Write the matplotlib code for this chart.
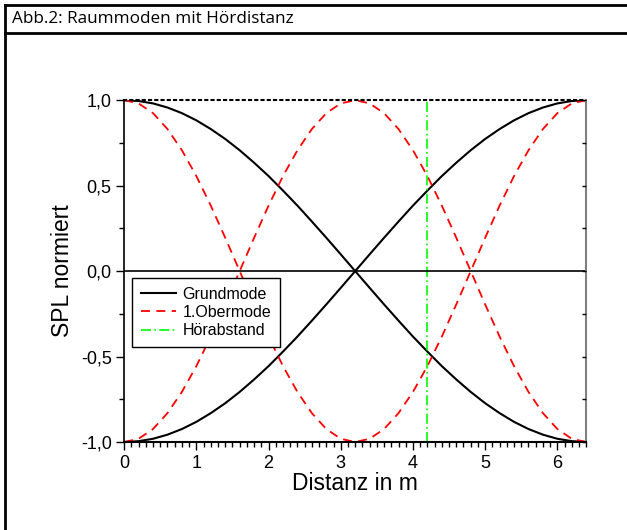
import matplotlib
matplotlib.use("Agg")
import matplotlib.pyplot as plt
import numpy as np
from matplotlib.lines import Line2D
from matplotlib.ticker import MultipleLocator, FuncFormatter

plt.rcParams['font.family'] = ['Liberation Sans', 'DejaVu Sans']

distanz = [0.0, 0.2, 0.4, 0.6, 0.8, 1.0, 1.2, 1.4, 1.6, 1.8, 2.0, 2.2, 2.4, 2.6, 2.8, 3.0,
           3.2, 3.4, 3.6, 3.8, 4.0, 4.2, 4.4, 4.6, 4.8, 5.0, 5.2, 5.4, 5.6, 5.8, 6.0, 6.2, 6.4]
grundmode = [1.000, 0.995, 0.981, 0.957, 0.924, 0.882, 0.831, 0.773, 0.707, 0.634, 0.556,
             0.471, 0.383, 0.290, 0.195, 0.098, 0.000, -0.098, -0.195, -0.290, -0.383,
             -0.471, -0.556, -0.634, -0.707, -0.773, -0.831, -0.882, -0.924, -0.957,
             -0.981, -0.995, -1.000]
obermode = [1.000, 0.981, 0.924, 0.831, 0.707, 0.556, 0.383, 0.195, 0.000, -0.195, -0.383,
            -0.556, -0.707, -0.831, -0.924, -0.981, -1.000, -0.981, -0.924, -0.831, -0.707,
            -0.556, -0.383, -0.195, 0.000, 0.195, 0.383, 0.556, 0.707, 0.831, 0.924, 0.981,
            1.000]
hoerabstand = 4.2

fig = plt.figure(figsize=(6.27, 5.30), dpi=100)
ax = fig.add_axes([0.198, 0.166, 0.737, 0.645])

ax.plot(distanz, grundmode, color='black', lw=1.5, label='Grundmode')
ax.plot(distanz, np.negative(grundmode), color='black', lw=1.5)
ax.plot(distanz, obermode, color='red', lw=1.3, ls=(0, (5, 3.5)), label='1.Obermode')
ax.plot(distanz, np.negative(obermode), color='red', lw=1.3, ls=(0, (5, 3.5)))
ax.plot([hoerabstand, hoerabstand], [-1, 1], color='#00ff00', lw=1.2,
        ls=(0, (6, 2, 1, 2)), label='Hörabstand')
ax.axhline(0, color='black', lw=1.2)

ax.set_xlim(0, 6.4)
ax.set_ylim(-1, 1)
ax.xaxis.set_major_locator(MultipleLocator(1))
ax.xaxis.set_minor_locator(MultipleLocator(0.1))
ax.yaxis.set_major_locator(MultipleLocator(0.5))
ax.yaxis.set_minor_locator(MultipleLocator(0.25))
ax.yaxis.set_major_formatter(FuncFormatter(lambda v, p: f"{v:.1f}".replace('.', ',')))
ax.tick_params(which='major', direction='out', length=6, width=1, labelsize=13, pad=3)
ax.tick_params(which='minor', direction='out', length=3.5, width=1)

ax.spines['top'].set_linestyle((0, (1, 2)))
ax.spines['top'].set_linewidth(1.5)
ax.spines['right'].set_color('#808080')
ax.spines['right'].set_linewidth(1.5)
ax.spines['left'].set_linewidth(1.2)
ax.spines['bottom'].set_linewidth(1.5)

ax2 = ax.twinx()
ax2.set_ylim(-1, 1)
ax2.yaxis.set_major_locator(MultipleLocator(0.25))
ax2.tick_params(direction='in', length=3, width=1, labelright=False, color='black')
for s in ax2.spines.values():
    s.set_visible(False)

ax.set_xlabel('Distanz in m', fontsize=16.5, labelpad=0)
ax.set_ylabel('SPL normiert', fontsize=16.5, labelpad=5)

leg = ax.legend(loc='upper left', bbox_to_anchor=(0.017, 0.48), borderaxespad=0,
                fontsize=11.5, handlelength=2.2, handletextpad=0.4, labelspacing=0.2,
                fancybox=False, framealpha=1, edgecolor='black', borderpad=0.55)
leg.get_frame().set_linewidth(1)

# outer frame with title bar
fig.add_artist(Line2D([5 / 627, 5 / 627], [0, 1 - 5 / 530], color='black', lw=2))
fig.add_artist(Line2D([5 / 627, 1], [1 - 5 / 530, 1 - 5 / 530], color='black', lw=2))
fig.add_artist(Line2D([5 / 627, 1], [1 - 33 / 530, 1 - 33 / 530], color='black', lw=2))
fig.text(12 / 627, 1 - 19 / 530, 'Abb.2: Raummoden mit Hördistanz', fontsize=12.3,
         family=['Open Sans', 'DejaVu Sans'], va='center', ha='left')

fig.savefig('out.png', dpi=100)
